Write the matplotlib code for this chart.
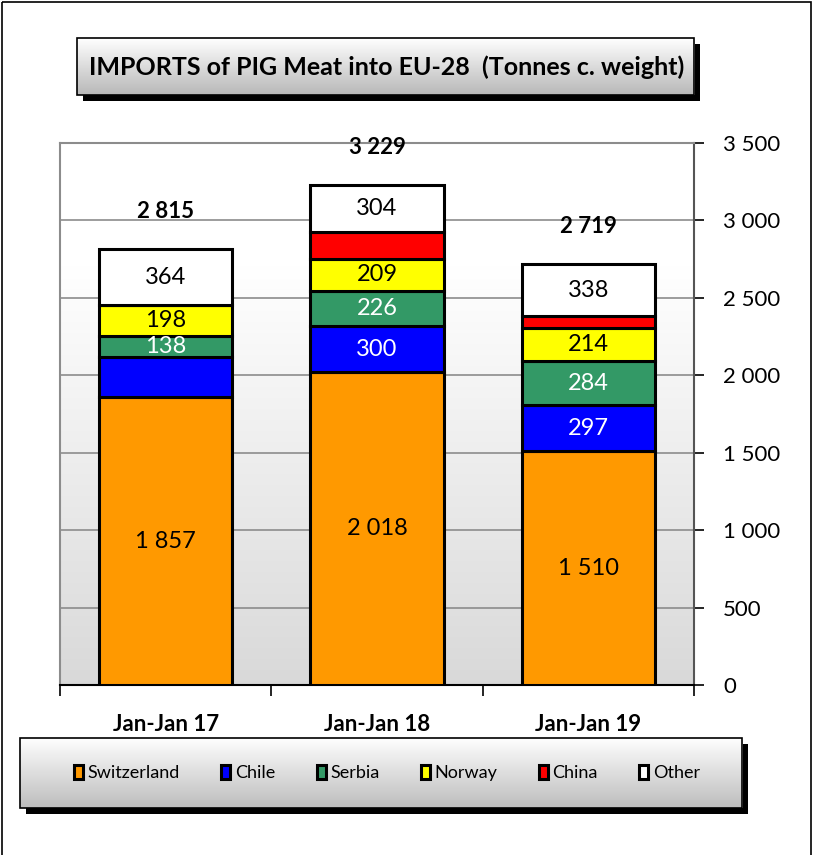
import numpy as np
import matplotlib
matplotlib.use("Agg")
import matplotlib.pyplot as plt
from matplotlib.patches import Rectangle, Patch

plt.rcParams['font.family'] = ['Lato', 'DejaVu Sans']

periods = ['Jan-Jan 17', 'Jan-Jan 18', 'Jan-Jan 19']
countries = ['Switzerland', 'Chile', 'Serbia', 'Norway', 'China', 'Other']
switzerland = [1857, 2018, 1510]
chile = [258, 300, 297]
serbia = [138, 226, 284]
norway = [198, 209, 214]
china = [0, 172, 76]
other = [364, 304, 338]
totals = [2815, 3229, 2719]
# which segments carry a number inside the bar
shown = {
    'Switzerland': [True, True, True],
    'Chile': [False, True, True],
    'Serbia': [True, True, True],
    'Norway': [True, True, True],
    'China': [False, False, False],
    'Other': [True, True, True],
}
colors = ['#FF9900', '#0000FF', '#339966', '#FFFF00', '#FF0000', '#FFFFFF']
text_colors = ['black', 'white', 'white', 'black', 'black', 'black']

def fmt(v):
    return '{:,}'.format(v).replace(',', ' ')

W, H = 813, 855
fig = plt.figure(figsize=(W / 100, H / 100), dpi=100)

# overlay in pixel coordinates for frames / boxes
bg = fig.add_axes([0, 0, 1, 1], zorder=0)
bg.set_xlim(0, W)
bg.set_ylim(H, 0)
bg.axis('off')
bg.add_patch(Rectangle((2, 2), W - 4, H + 10, fill=False, lw=1.2, ec='black'))

def gradient_box(x0, y0, x1, y1, top='#ffffff', bottom='#c0c0c0', shadow=7):
    bg.add_patch(Rectangle((x0 + shadow, y0 + shadow), x1 - x0, y1 - y0,
                           fc='black', ec='none', zorder=1))
    c0 = np.array(matplotlib.colors.to_rgb(top))
    c1 = np.array(matplotlib.colors.to_rgb(bottom))
    t = np.linspace(0, 1, 100)[:, None]
    img = (c0 * (1 - t) + c1 * t)[:, None, :]
    bg.imshow(img, extent=(x0, x1, y1, y0), aspect='auto', zorder=2)
    bg.add_patch(Rectangle((x0, y0), x1 - x0, y1 - y0, fill=False,
                           ec='black', lw=1.2, zorder=3))

gradient_box(77, 38, 694, 95, bottom='#b8b8b8', shadow=6)
bg.text((77 + 694) / 2 + 1, 67, 'IMPORTS of PIG Meat into EU-28  (Tonnes c. weight)',
        ha='center', va='center', fontsize=18, fontweight='bold', zorder=4)

gradient_box(20, 738, 742, 808, bottom='#bdbdbd', shadow=6)
bg.set_xlim(0, W)
bg.set_ylim(H, 0)

# main chart
ax = fig.add_axes([60 / W, 1 - 685 / H, (694 - 60) / W, (685 - 143) / H], zorder=5)
x = np.arange(len(periods))
grad = np.linspace(0, 1, 200)[:, None]
gimg = np.ones((200, 1, 3)) - 0.15 * np.clip(grad * 1.3 - 0.3, 0, 1)[:, :, None]
ax.imshow(gimg, extent=(-0.5, 2.5, 0, 3500), aspect='auto', zorder=0)

ax.set_xlim(-0.5, 2.5)
ax.set_ylim(0, 3500)
ax.yaxis.grid(True, color='#8c8c8c', lw=1.2, zorder=1)
ax.set_axisbelow(True)

series = [switzerland, chile, serbia, norway, china, other]
bottom = np.zeros(len(periods))
for name, vals, c, tc in zip(countries, series, colors, text_colors):
    vals = np.array(vals)
    ax.bar(x, vals, 0.63, bottom=bottom, color=c, edgecolor='black',
           linewidth=2.2, zorder=3, label=name)
    for i, v in enumerate(vals):
        if shown[name][i]:
            ax.text(x[i], bottom[i] + v / 2, fmt(int(v)), ha='center', va='center',
                    fontsize=17, color=tc, zorder=4)
    bottom += vals

for i, t in enumerate(totals):
    ax.text(x[i], t + 240, fmt(t), ha='center', va='center',
            fontsize=16, fontweight='bold', zorder=4)

ax.yaxis.tick_right()
ax.set_yticks(np.arange(0, 3501, 500))
ax.set_yticklabels([fmt(v) for v in range(0, 3501, 500)])
ax.tick_params(axis='y', direction='out', length=7, width=1.2, pad=14,
               labelsize=16, color='black')
ax.set_xticks(x)
ax.set_xticklabels(periods, fontsize=16, fontweight='bold')
ax.set_xticks([-0.5, 0.5, 1.5, 2.5], minor=True)
ax.tick_params(axis='x', which='major', length=0, pad=21)
ax.tick_params(axis='x', which='minor', direction='out', length=8, width=1.2)
for s in ['left', 'top']:
    ax.spines[s].set_color('#8c8c8c')
    ax.spines[s].set_linewidth(1.5)
ax.spines['right'].set_color('#555555')
ax.spines['right'].set_linewidth(1.5)
ax.spines['bottom'].set_color('black')
ax.spines['bottom'].set_linewidth(1.5)

handles = [Patch(fc=c, ec='black', lw=2.2) for c in colors]
leg = fig.legend(handles, countries, loc='center', bbox_to_anchor=(387 / W, 1 - 773 / H),
                 ncol=6, frameon=False, fontsize=13, handlelength=0.5,
                 handleheight=0.85, handletextpad=0.25, columnspacing=2.3)
leg.set_zorder(6)

fig.savefig('out.png', dpi=100)
